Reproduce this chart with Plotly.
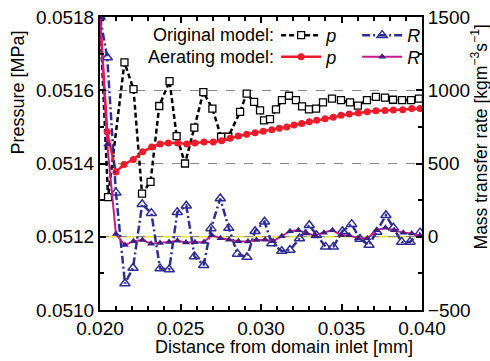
import plotly.graph_objects as go

# ---- data ----
orig_p_x = [0.02000, 0.02050, 0.02152, 0.02208, 0.02261, 0.02314, 0.02368, 0.02432, 0.02476,
            0.02528, 0.02586, 0.02642, 0.02698, 0.02752, 0.02797, 0.02870, 0.02911, 0.02957,
            0.02994, 0.03019, 0.03056, 0.03093, 0.03130, 0.03174, 0.03217, 0.03255, 0.03298,
            0.03342, 0.03385, 0.03441, 0.03497, 0.03553, 0.03602, 0.03658, 0.03714, 0.03770,
            0.03820, 0.03876, 0.03932, 0.03981]
orig_p = [0.05180, 0.051308, 0.051676, 0.051603, 0.051318, 0.051350, 0.051557, 0.051625, 0.051475,
          0.051400, 0.051498, 0.051595, 0.051550, 0.051473, 0.051473, 0.051541, 0.051591, 0.051568,
          0.051545, 0.051518, 0.051521, 0.051548, 0.051573, 0.051585, 0.051573, 0.051556, 0.051548,
          0.051550, 0.051567, 0.051577, 0.051573, 0.051567, 0.051558, 0.051573, 0.051582, 0.051580,
          0.051574, 0.051573, 0.051573, 0.051577]

aer_p_x = [0.02000, 0.02045, 0.02099, 0.02149, 0.02207, 0.02265, 0.02321, 0.02373, 0.02424,
           0.02483, 0.02539, 0.02590, 0.02646, 0.02704, 0.02756, 0.02808, 0.02859, 0.02911,
           0.02963, 0.03014, 0.03067, 0.03114, 0.03160, 0.03205, 0.03253, 0.03300, 0.03346,
           0.03398, 0.03449, 0.03497, 0.03548, 0.03604, 0.03660, 0.03714, 0.03770, 0.03822,
           0.03880, 0.03936, 0.03988]
aer_p = [0.05180, 0.051486, 0.051377, 0.051397, 0.051411, 0.051432, 0.051445, 0.051453, 0.051456,
         0.051456, 0.051453, 0.051456, 0.051459, 0.051459, 0.051462, 0.051469, 0.051475, 0.051480,
         0.051484, 0.051488, 0.051492, 0.051496, 0.051500, 0.051505, 0.051509, 0.051514, 0.051518,
         0.051522, 0.051526, 0.051532, 0.051535, 0.051538, 0.051541, 0.051544, 0.051545, 0.051546,
         0.051547, 0.051550, 0.051550]

orig_R_x = [0.02000, 0.02045, 0.02099, 0.02155, 0.02205, 0.02262, 0.02319, 0.02373, 0.02430,
            0.02480, 0.02536, 0.02587, 0.02644, 0.02689, 0.02747, 0.02800, 0.02854, 0.02913,
            0.02963, 0.03022, 0.03067, 0.03129, 0.03180, 0.03239, 0.03300, 0.03344, 0.03401,
            0.03449, 0.03506, 0.03563, 0.03615, 0.03671, 0.03719, 0.03776, 0.03822, 0.03874,
            0.03926, 0.03988]
orig_R = [1500, 1223, 301, -319, -213, 222, 161, -216, -223, 168, 212, -134, -194, 57, 261, 59,
          -117, -139, 38, 102, -46, -98, -91, -12, 79, 11, -69, -69, 38, 86, -16, -57, 33, 147,
          62, -35, -35, 28]

aer_R_x = [0.02000, 0.02045, 0.02099, 0.02155, 0.02208, 0.02264, 0.02317, 0.02373, 0.02429,
           0.02481, 0.02534, 0.02590, 0.02646, 0.02694, 0.02748, 0.02801, 0.02860, 0.02919,
           0.02972, 0.03025, 0.03076, 0.03129, 0.03180, 0.03232, 0.03284, 0.03335, 0.03391,
           0.03444, 0.03497, 0.03547, 0.03602, 0.03661, 0.03719, 0.03773, 0.03826, 0.03884,
           0.03936, 0.03988]
aer_R = [1500, 632, 18, -57, -30, -23, -47, -43, -35, -27, -39, -37, -35, 11, -10, -20, -30, -33,
         -23, -20, -30, 4, 38, 45, 22, 11, 28, 45, 11, 11, -10, -11, 45, 62, 45, 28, 22, 7]

x_ticks = [0.020, 0.025, 0.030, 0.035, 0.040]
p_ticks = [0.0510, 0.0512, 0.0514, 0.0516, 0.0518]
R_ticks = [-500, 0, 500, 1000, 1500]

FONT = "Liberation Sans, Arial, sans-serif"
NAVY = "#2e2e92"

fig = go.Figure()

fig.add_trace(go.Scatter(
    x=orig_p_x, y=orig_p, mode="lines+markers", name="<i>p</i>", legend="legend",
    line=dict(color="black", width=2.5, dash="5px,3px"),
    marker=dict(symbol="square", size=7, color="white", line=dict(color="black", width=1.3)),
))
fig.add_trace(go.Scatter(
    x=orig_R_x, y=orig_R, yaxis="y2", mode="lines+markers", name="<i>R</i>", legend="legend",
    line=dict(color=NAVY, width=2.5, dash="8px,3px,2px,3px"),
    marker=dict(symbol="triangle-up-open", size=9, color=NAVY, line=dict(width=1.5)),
))
fig.add_trace(go.Scatter(
    x=aer_p_x, y=aer_p, mode="lines+markers", name="<i>p</i>", legend="legend2",
    line=dict(color="#ee1c2a", width=2.5),
    marker=dict(symbol="circle", size=7, color="#ee1c2a"),
))
fig.add_trace(go.Scatter(
    x=aer_R_x, y=aer_R, yaxis="y2", mode="lines+markers", name="<i>R</i>", legend="legend2",
    line=dict(color="#c81c8a", width=2),
    marker=dict(symbol="triangle-up", size=7, color="#3b2184"),
))

# reference line at p = 0.0512 (R = 0)
fig.add_hline(y=0.0512, line=dict(color="#e8e23a", width=1.5), layer="below")

legend_common = dict(
    orientation="h", xanchor="left", yanchor="middle", bgcolor="rgba(0,0,0,0)",
    font=dict(family=FONT, size=18, color="black"), entrywidth=26, entrywidthmode="pixels",
    itemwidth=40, tracegroupgap=0,
)

fig.update_layout(
    width=490, height=361,
    margin=dict(l=100, r=68, t=17, b=51, autoexpand=False),
    paper_bgcolor="white", plot_bgcolor="white",
    font=dict(family=FONT, size=18, color="black"),
    showlegend=True,
    legend=dict(x=0.547, y=0.937, **legend_common),
    legend2=dict(x=0.547, y=0.863, **legend_common),
    xaxis=dict(
        range=[0.020, 0.040], tickvals=x_ticks, tickformat=".3f",
        ticks="inside", ticklen=6, tickwidth=1.5, tickcolor="black",
        minor=dict(dtick=0.001, tick0=0.020, ticks="inside", ticklen=4, tickcolor="black"),
        showline=True, linecolor="black", linewidth=2, mirror="ticks",
        showgrid=False, zeroline=False,
        tickfont=dict(size=19),
    ),
    yaxis=dict(
        range=[0.0510, 0.0518], tickvals=p_ticks, tickformat=".4f",
        ticks="inside", ticklen=6, tickwidth=1.5, tickcolor="black",
        minor=dict(dtick=0.0001, tick0=0.0510, ticks="inside", ticklen=4, tickcolor="black",
                   showgrid=False),
        showline=True, linecolor="black", linewidth=2,
        showgrid=True, gridcolor="#8a8a8a", griddash="dash", gridwidth=1,
        zeroline=False,
        tickfont=dict(size=19),
    ),
    yaxis2=dict(
        range=[-500, 1500], tickvals=R_ticks, overlaying="y", side="right",
        ticks="inside", ticklen=6, tickwidth=1.5, tickcolor="black",
        minor=dict(dtick=250, tick0=-500, ticks="inside", ticklen=4, tickcolor="black"),
        showline=True, linecolor="black", linewidth=2,
        showgrid=False, zeroline=False,
        tickfont=dict(size=19),
    ),
    annotations=[
        dict(text="Original model:", x=0.547, y=0.937, xref="paper", yref="paper",
             xanchor="right", yanchor="middle", showarrow=False, font=dict(size=18)),
        dict(text="Aerating model:", x=0.547, y=0.863, xref="paper", yref="paper",
             xanchor="right", yanchor="middle", showarrow=False, font=dict(size=18)),
        dict(text="Distance from domain inlet [mm]", x=0.571, y=-0.126, xref="paper",
             yref="paper", xanchor="center", yanchor="middle", showarrow=False,
             font=dict(size=18)),
        dict(text="Pressure [MPa]", x=-0.255, y=0.742, xref="paper", yref="paper",
             xanchor="center", yanchor="middle", showarrow=False, textangle=-90,
             font=dict(size=18)),
        dict(text="Mass transfer rate [kgm<sup>−3</sup>s<sup>−1</sup>]", x=1.178, y=0.59,
             xref="paper", yref="paper", xanchor="center", yanchor="middle", showarrow=False,
             textangle=-90, font=dict(size=17.5)),
    ],
)

fig.write_html("out.html")
